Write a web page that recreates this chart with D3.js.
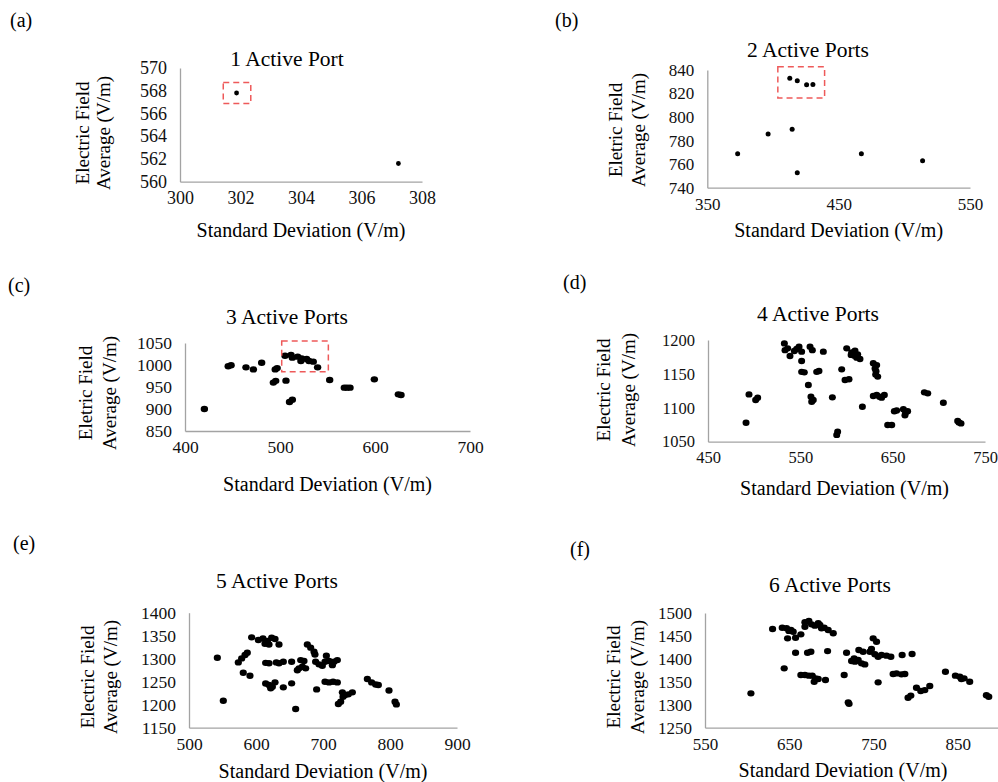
<!doctype html>
<html>

<head>
	<meta charset="utf-8">
	<style>
		body { margin: 0; background: #fff; }
	</style>
</head>

<body>
	<div class="figure"></div>

	<script src="https://d3js.org/d3.v7.min.js"></script>
	<script>
		// --- data ---
		let tags = ["(a)", "(b)", "(c)", "(d)", "(e)", "(f)"];
		let titles = ["1 Active Port", "2 Active Ports", "3 Active Ports", "4 Active Ports", "5 Active Ports", "6 Active Ports"];
		let yLabelTop = ["Electric Field", "Eletric Field", "Eletric Field", "Electric Field", "Electric Field", "Electric Field"];
		let yLabelBottom = "Average (V/m)";
		let xLabel = "Standard Deviation (V/m)";

		let xDomains = [[300, 308], [350, 550], [400, 700], [450, 750], [500, 900], [550, 950]];
		let yDomains = [[560, 570], [740, 840], [850, 1050], [1050, 1200], [1150, 1400], [1250, 1500]];
		let xTicks = [[300, 302, 304, 306, 308], [350, 450, 550], [400, 500, 600, 700], [450, 550, 650, 750], [500, 600, 700, 800, 900], [550, 650, 750, 850]];
		let yTicks = [[560, 562, 564, 566, 568, 570], [740, 760, 780, 800, 820, 840], [850, 900, 950, 1000, 1050], [1050, 1100, 1150, 1200], [1150, 1200, 1250, 1300, 1350, 1400], [1250, 1300, 1350, 1400, 1450, 1500]];

		// [standard deviation, average]
		let ports1 = [[301.87, 567.8], [307.22, 561.6]];
		let ports2 = [[412.8, 832.9], [418.5, 830.9], [425.6, 827.4], [430.4, 827.7], [414.6, 789.6], [396.3, 785.6],
			[373.1, 768.8], [418.5, 752.6], [467.3, 768.8], [513.9, 763]];
		let ports3 = [[420.4, 900], [445.5, 997], [448.5, 999.5], [464.2, 994.7], [472, 990], [480.7, 1005],
			[495, 990], [497, 993], [493, 960], [495.5, 964], [506.3, 964.4], [510, 916], [513, 921],
			[505.3, 1021], [511.6, 1022.7], [513, 1016.7], [518.6, 1019], [522.8, 1015], [522, 1009], [528, 1013.5],
			[530.5, 1009], [535, 1007.6], [539.6, 994.7], [552.3, 966], [567.7, 948.5], [570.5, 948.5], [573.7, 948.5],
			[599.3, 967.4], [624.6, 933.3], [627.4, 931.8]];
		let ports4 = [[491.2, 1078], [494.4, 1119.8], [501.6, 1111.5], [503.8, 1115], [532.7, 1195], [533.4, 1185],
			[536.3, 1187.7], [538.8, 1176.4], [543.5, 1183.8], [548.6, 1190], [551.4, 1182.8], [546, 1186.7],
			[551.4, 1169], [551.4, 1153], [554.3, 1152.3], [560.5, 1190], [563, 1185], [574.9, 1182.8],
			[567.7, 1153], [570.2, 1154.3], [558.7, 1133.6], [561.5, 1116.4], [564, 1111.5], [562.3, 1109],
			[584.7, 1115.4], [594.8, 1156.7], [598.4, 1141], [602.7, 1142], [590.4, 1064.7], [589.4, 1060],
			[600.2, 1187.7], [605.6, 1181.8], [609.2, 1184.3], [608.5, 1176.9], [612.1, 1178.8], [614.6, 1172],
			[611, 1174], [605, 1178], [617.2, 1101.6], [629, 1165.6], [632.7, 1163], [630.9, 1158], [631.6, 1149],
			[633.8, 1146], [632, 1154], [629, 1117.4], [632.7, 1118.8], [638, 1115], [641, 1118.8], [635.8, 1116.4],
			[644.6, 1074.6], [649, 1074.6], [651.8, 1095], [654.3, 1096], [661.6, 1098], [664, 1093], [666.2, 1095],
			[663.3, 1089], [684.3, 1122.8], [688, 1121.3], [704.9, 1107.5], [721.8, 1078.5], [724, 1077], [720.4, 1080.5]];
		let ports5 = [[542.3, 1302], [551.2, 1208.7], [573.6, 1292], [578.6, 1300.7], [583.6, 1308], [587, 1313],
			[581, 1269.6], [591, 1263], [593.5, 1346.4], [603.5, 1340.6], [610.4, 1344], [617, 1338.4], [623.4, 1345.7],
			[628.4, 1342.8], [619.4, 1331], [634.3, 1331], [613.4, 1332.6], [614.4, 1291], [619.4, 1290], [630.3, 1292],
			[634.3, 1290], [640.8, 1293.5], [614.4, 1246], [619.4, 1243], [624.4, 1239], [628.4, 1248.6], [621.9, 1235.5],
			[640.8, 1237.7], [653.2, 1246.4], [659.2, 1190.6], [653.2, 1293.5], [664.2, 1279], [669.2, 1282.6],
			[674.1, 1279], [661.7, 1275], [666.7, 1297], [671.6, 1295], [676.6, 1331], [681.6, 1324], [686.6, 1315],
			[688, 1309], [690.5, 1233.3], [689, 1293.5], [694, 1287.7], [699, 1284.8], [703, 1293.5], [705, 1306.5],
			[709, 1295], [716.4, 1293.5], [721.4, 1297], [714, 1286], [703, 1250], [709, 1248.5], [715, 1250],
			[721.4, 1248.5], [722.9, 1201.4], [726.4, 1206.5], [728.9, 1226.8], [732.8, 1221], [737.8, 1222.5],
			[743.8, 1226.8], [729.9, 1217.4], [766.2, 1255.8], [772.6, 1248.5], [778.6, 1244], [782.6, 1242.7],
			[798.5, 1231], [807.5, 1206.5], [809.5, 1200.7]];
		let ports6 = [[604.5, 1324.9], [630.2, 1465], [644, 1379.4], [641.7, 1468], [646.8, 1466.6], [652, 1463],
			[654.7, 1459], [649.6, 1461], [648, 1444.8], [657.5, 1446], [663.8, 1453.5], [668.6, 1479.7], [673.3, 1482.6],
			[676.5, 1475.3], [680.4, 1472.4], [684.4, 1477.5], [688.3, 1466.6], [691.5, 1468], [696.2, 1463],
			[702.2, 1455.7], [668.6, 1470], [686.4, 1474], [657.5, 1413.5], [671.7, 1413.5], [675.7, 1415.7],
			[695.5, 1417], [663.8, 1364.8], [668.6, 1364.8], [673.3, 1363.4], [677.3, 1363.4], [681.2, 1357.6],
			[684.4, 1356], [679.6, 1350.3], [693, 1354], [715.2, 1364.8], [718, 1413.5], [724, 1395.4], [728, 1394],
			[731.8, 1397.5], [727, 1401], [735.8, 1390.3], [739.7, 1388], [732.6, 1419.3], [737.7, 1415.7],
			[720, 1305.2], [721, 1302], [749.6, 1444.8], [753.6, 1437.5], [745.7, 1415.7], [751.6, 1410], [755.5, 1404.8],
			[759.5, 1408.4], [765.4, 1407], [770.6, 1404.8], [747.6, 1421.5], [755.5, 1348.8], [773.3, 1367],
			[777.3, 1368.4], [783.2, 1366.3], [787.2, 1367], [784, 1408.4], [795.8, 1410.6], [791, 1315.4],
			[794.3, 1320], [801, 1337.2], [806.1, 1330], [810.9, 1332], [816.8, 1341], [835.4, 1372], [847.2, 1363.4],
			[852.4, 1361.2], [857.5, 1357.6], [864.2, 1350.3], [854.3, 1356], [884, 1321], [886.8, 1317.6]];
		let series = [ports1, ports2, ports3, ports4, ports5, ports6];

		// dashed highlight boxes: [xMin, xMax, yMin, yMax]
		let boxes = [[301.43, 302.34, 566.88, 568.73], [403.7, 439.3, 816.3, 842.8], [501.8, 550.9, 984.8, 1054.5], null, null, null];

		// --- layout (pixels) ---
		let layout = [
			{ x0: 180, x1: 422, y0: 68, y1: 181.7, tag: [10, 20], title: [287, 58], xl: 230, ylx: [82, 103], yly: 133, fs: 18, rx: 2.4, ry: 2.4 },
			{ x0: 707.3, x1: 970, y0: 70, y1: 187.7, tag: [555, 20], title: [808, 49], xl: 230, ylx: [615, 638], yly: 130, fs: 17, rx: 2.5, ry: 2.5 },
			{ x0: 185, x1: 470, y0: 343, y1: 431, tag: [8, 285], title: [287, 316], xl: 484, ylx: [85, 109], yly: 393, fs: 17.5, rx: 3.7, ry: 3.2 },
			{ x0: 708, x1: 985, y0: 340, y1: 441.7, tag: [563, 282], title: [818, 313], xl: 488, ylx: [603, 628], yly: 390, fs: 16.5, rx: 3.5, ry: 3.2 },
			{ x0: 189, x1: 457, y0: 612.7, y1: 727.7, tag: [13, 543], title: [277, 580], xl: 771, ylx: [87, 110], yly: 677, fs: 17.5, rx: 3.6, ry: 3.2 },
			{ x0: 705, x1: 1042, y0: 613, y1: 727.7, tag: [570, 549], title: [830, 584], xl: 770, ylx: [613, 637], yly: 677, fs: 17, rx: 3.6, ry: 3.2 }
		];

		let FONT = "'Liberation Serif', 'Times New Roman', serif";

		let svg = d3.select(".figure")
			.append("svg")
			.attr("width", 998)
			.attr("height", 782)
			.style("display", "block")
			.style("background-color", "white")
			.style("font-family", FONT);

		function styleAxis(g, fs) {
			g.attr("font-family", FONT).attr("font-size", fs);
			g.select(".domain").attr("stroke", "#a3a3a3").attr("stroke-width", 1.3);
			g.selectAll("text").attr("fill", "#111");
		}

		series.forEach((pts, i) => {
			let L = layout[i];
			let x = d3.scaleLinear().domain(xDomains[i]).range([L.x0, L.x1]);
			let y = d3.scaleLinear().domain(yDomains[i]).range([L.y1, L.y0]);
			let g = svg.append("g");

			g.append("g")
				.attr("transform", `translate(0,${L.y1})`)
				.call(d3.axisBottom(x).tickValues(xTicks[i]).tickSize(0).tickPadding(10).tickFormat(d3.format("d")))
				.call(styleAxis, L.fs);

			g.append("g")
				.attr("transform", `translate(${L.x0},0)`)
				.call(d3.axisLeft(y).tickValues(yTicks[i]).tickSize(0).tickPadding(13).tickFormat(d3.format("d")))
				.call(styleAxis, L.fs);

			g.selectAll("ellipse.dot")
				.data(pts)
				.join("ellipse")
				.attr("class", "dot")
				.attr("cx", d => x(d[0]))
				.attr("cy", d => y(d[1]))
				.attr("rx", L.rx)
				.attr("ry", L.ry)
				.style("fill", "black");

			if (boxes[i]) {
				let b = boxes[i];
				g.append("rect")
					.attr("x", x(b[0]))
					.attr("y", y(b[3]))
					.attr("width", x(b[1]) - x(b[0]))
					.attr("height", y(b[2]) - y(b[3]))
					.attr("fill", "none")
					.attr("stroke", "#ee5a5a")
					.attr("stroke-width", 1.5)
					.attr("stroke-dasharray", "6,4");
			}

			// titles and labels
			g.append("text").attr("x", L.title[0]).attr("y", L.title[1]).attr("dy", "0.35em")
				.attr("text-anchor", "middle").attr("font-size", 21.5).text(titles[i]);
			g.append("text").attr("x", L.tag[0]).attr("y", L.tag[1]).attr("dy", "0.35em")
				.attr("font-size", 20).text(tags[i]);
			g.append("text").attr("x", (L.x0 + Math.min(L.x1, 981)) / 2).attr("y", L.xl).attr("dy", "0.35em")
				.attr("text-anchor", "middle").attr("font-size", 20).text(xLabel);
			g.append("text").attr("transform", `translate(${L.ylx[0]},${L.yly}) rotate(-90)`).attr("dy", "0.35em")
				.attr("text-anchor", "middle").attr("font-size", 19).text(yLabelTop[i]);
			g.append("text").attr("transform", `translate(${L.ylx[1]},${L.yly}) rotate(-90)`).attr("dy", "0.35em")
				.attr("text-anchor", "middle").attr("font-size", 19).text(yLabelBottom);
		});
	</script>

</body>

</html>
